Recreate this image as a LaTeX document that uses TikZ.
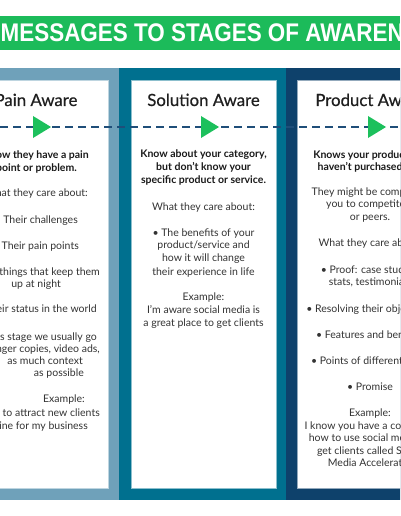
\documentclass[tikz,border=0pt]{standalone}
\usepackage{fontspec}
\usetikzlibrary{calc}
\setmainfont{Lato}
\newfontfamily\titlefont{Liberation Sans}
\newfontfamily\headfont{Lato}[FakeBold=0.5]
\definecolor{titlegreen}{HTML}{1CBB5A}
\definecolor{arrowgreen}{HTML}{1CC05C}
\definecolor{colA}{HTML}{6FA1BA}
\definecolor{colB}{HTML}{00708F}
\definecolor{colC}{HTML}{0E416B}
\definecolor{dashcol}{HTML}{1F4E79}
\definecolor{bodytext}{HTML}{333333}
\definecolor{boldtext}{HTML}{1A1A1A}
\definecolor{headtext}{HTML}{1F1F1F}
\begin{document}
\begin{tikzpicture}[x=1pt,y=-1pt,
  body/.style={font=\fontsize{10.5}{12}\selectfont, text=bodytext, inner sep=0pt, anchor=base},
  bodyb/.style={body, font=\fontsize{10.5}{12}\selectfont\bfseries, text=boldtext},
  bodyR/.style={body, anchor=base east},
  bodyRb/.style={bodyb, anchor=base east},
  heading/.style={font=\headfont\fontsize{16.8}{18}\selectfont, text=headtext, inner sep=0pt, anchor=base},
  card/.style={fill=white, draw=#1, line width=0.8pt},
  dashline/.style={draw=dashcol, line width=2pt, dash pattern=on 8pt off 5pt},
  tri/.style={fill=arrowgreen, draw=none},
]
\useasboundingbox (0,0) rectangle (400,516);
\clip (0,0) rectangle (400,516);
\fill[white] (0,0) rectangle (400,516);
% title
\fill[titlegreen] (0,16) rectangle (400,50);
\node[anchor=base west, inner sep=0pt, text=white] (title) at (0.5,41.7)
  {\titlefont\bfseries\fontsize{25.5}{27}\selectfont\scalebox{0.88}[1]{MESSAGES TO STAGES OF AWARENESS}};
% columns
\fill[colA] (-48,68) rectangle (119,500);
\fill[colB] (119,68) rectangle (286,500);
\fill[colC] (286,68) rectangle (453,500);
\path[card=colA!45!white] (-37,80) rectangle (108,488);
\path[card=colB!45!white] (131,80) rectangle (276,488);
\path[card=colC!45!white] (297,80) rectangle (442,488);
% headings
\node[heading] (hA) at (36,106) {Pain Aware};
\node[heading] (hB) at (203.5,106) {Solution Aware};
\node[heading] (hC) at (370,106) {Product Aware};
% dashed line
\coordinate (dl) at (0,127);
\coordinate (dr) at (400,127);
\draw[dashline] (dl) -- (dr);
\foreach \tx/\nm in {33/tA,201/tB,368/tC}{
  \coordinate (\nm) at (\tx,127);
  \fill[tri] ($(\nm)+(0,-11)$) -- ($(\nm)+(18,0)$) -- ($(\nm)+(0,11)$) -- cycle;
}
% column 1
\foreach \s/\y/\x/\t in {
  bodyRb/155/89/{Know they have a pain},
  bodyRb/168/77/{point or problem.},
  bodyR/193/88/{What they care about:},
  bodyR/220/78/{• Their challenges},
  bodyR/246/79/{• Their pain points},
  bodyR/272/100/{• The things that keep them},
  bodyR/284/61/{up at night},
  bodyR/309/97/{• Their status in the world},
  bodyR/337/97/{At this stage we usually go},
  bodyR/349/100/{for longer copies, video ads,},
  bodyR/361/83/{as much context},
  bodyR/373/84/{as possible},
  bodyR/399/85/{Example:},
  bodyR/413/100/{I want to attract new clients},
  bodyR/426/88/{online for my business}}{
  \node[\s] (a-\y) at (\x,\y+3.5) {\t};
}
% column 2
\foreach \s/\y/\t in {
  bodyb/154/{Know about your category,},
  bodyb/167/{but don't know your},
  bodyb/180/{specific product or service.},
  body/207/{What they care about:},
  body/233/{• The benefits of your},
  body/245/{product/service and},
  body/258/{how it will change},
  body/272/{their experience in life},
  body/297/{Example:},
  body/310/{I'm aware social media is},
  body/323/{a great place to get clients}}{
  \node[\s] (b-\y) at (203.5,\y+3.5) {\t};
}
% column 3
\foreach \s/\y/\t in {
  bodyb/155/{Knows your product but},
  bodyb/167/{haven't purchased yet.},
  body/192/{They might be comparing},
  body/204/{you to competitors},
  body/217/{or peers.},
  body/243/{What they care about:},
  body/270/{• Proof: case studies,},
  body/282/{stats, testimonials},
  body/309/{• Resolving their objections},
  body/335/{• Features and benefits},
  body/361/{• Points of differentiation},
  body/387/{• Promise},
  body/413/{Example:},
  body/426/{I know you have a course on},
  body/438/{how to use social media to},
  body/451/{get clients called Social},
  body/463/{Media Accelerator}}{
  \node[\s] (c-\y) at (370,\y+3.5) {\t};
}
\end{tikzpicture}
\end{document}
